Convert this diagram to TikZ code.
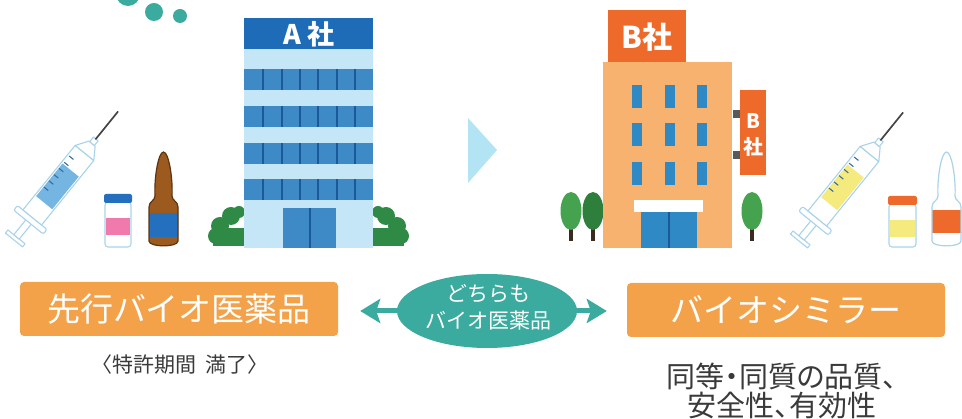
\documentclass[tikz,border=0pt]{standalone}
\usepackage{fontspec}
\setmainfont{Noto Sans CJK JP}
\newfontfamily\paltfont[RawFeature=+palt]{Noto Sans CJK JP}
\usetikzlibrary{arrows.meta,shapes.geometric}

\definecolor{tealc}{HTML}{3BAA9F}
\definecolor{boxorange}{HTML}{F4A24A}
\definecolor{asign}{HTML}{1E6BB8}
\definecolor{abody}{HTML}{C4E6F6}
\definecolor{awin}{HTML}{3D8AC6}
\definecolor{adiv}{HTML}{1B5A99}
\definecolor{bbody}{HTML}{F6B26E}
\definecolor{bsign}{HTML}{EE6A2B}
\definecolor{bwin}{HTML}{2F89C5}
\definecolor{bush}{HTML}{2F8A45}
\definecolor{treeA}{HTML}{45A24F}
\definecolor{treeB}{HTML}{2E7F3C}
\definecolor{trunk}{HTML}{3B2A1E}
\definecolor{glassline}{HTML}{A9D3EA}
\definecolor{liqblue}{HTML}{74B5E2}
\definecolor{liqyellow}{HTML}{F4EA7E}
\definecolor{tickc}{HTML}{3C6EA0}
\definecolor{needle}{HTML}{444444}
\definecolor{amber}{HTML}{9C5A1F}
\definecolor{amberline}{HTML}{5B3512}
\definecolor{labelblue}{HTML}{2470BE}
\definecolor{labelpink}{HTML}{F07AAB}
\definecolor{labelorange}{HTML}{EE6A2C}
\definecolor{paleblue}{HTML}{B2E4F3}
\definecolor{textgray}{HTML}{3A3A3A}

% syringe along local +x, plunger end at the origin
\newcommand\drawsyringe[3]{%
  \begin{scope}[shift={#1}, rotate=51]
    \draw[glass] (0,-11) rectangle (4,11);
    \draw[glass] (4,-3.5) rectangle (24,3.5);
    \draw[glass, rounded corners=2] (23,-19) rectangle (29,19);
    \draw[glass] (29,-12) rectangle (112,12);
    \fill[#2] (48,-10.4) rectangle (90,10.4);
    \foreach \t in {60,68,76,84,92,100} \draw[#3, line width=1.1] (\t,-10) -- (\t,-4.5);
    \draw[glass] (112,-12) -- (124,-4) -- (124,4) -- (112,12) -- cycle;
    \draw[glass] (124,-3) rectangle (130,3);
    \draw[needle, line width=1.7, line cap=round] (130,0) -- (165,0);
  \end{scope}}

% ampoule outline, centred on x = 0
\def\amppath{(-14.5,241) -- (-14.5,207) .. controls (-14.5,201) and (-8.5,201) .. (-8.5,196)
  .. controls (-9.5,180) and (-5.5,152) .. (0,152) .. controls (5.5,152) and (9.5,180) .. (8.5,196)
  .. controls (8.5,201) and (14.5,201) .. (14.5,207) -- (14.5,241)
  .. controls (14.5,247.5) and (-14.5,247.5) .. (-14.5,241) -- cycle}

\newcommand\drawampoule[6]{%
  \begin{scope}[shift={(#1,0)}]
    \fill[#2] \amppath;
    \begin{scope}
      \clip \amppath;
      \fill[#4] (-16,#5) rectangle (16,#6);
    \end{scope}
    \draw[#3, line width=1.2, line join=round] \amppath;
  \end{scope}}

\begin{document}
\begin{tikzpicture}[x=1pt, y=-1pt,
  glass/.style={draw=glassline, line width=1.1, fill=white, line join=round},
  obox/.style={rectangle, rounded corners=4pt, fill=boxorange, text=white,
    minimum width=318, minimum height=54, inner sep=0,
    font=\fontsize{33}{38}\selectfont},
  arr/.style={draw=tealc, line width=5,
    -{Stealth[length=20pt, width=24pt, inset=4pt]}},
  signtext/.style={text=white, font=\bfseries\fontsize{#1}{#1}\selectfont, inner sep=0}]

\useasboundingbox (0,0) rectangle (962,419);

% bubbles at the top
\fill[tealc] (128,-6) circle[radius=12];
\fill[tealc] (154,12) circle[radius=9];
\fill[tealc] (180,16) circle[radius=7];

% ---------- left: syringe, vial, ampoule ----------
\drawsyringe{(14,240)}{liqblue}{tickc}
\draw[glass, rounded corners=3] (105,202) rectangle (131,247);
\fill[labelpink] (105.6,218) rectangle (130.4,235);
\fill[labelblue, rounded corners=2] (104,194) rectangle (132,203);
\drawampoule{163.5}{amber}{amberline}{labelblue}{213}{237}

% ---------- company A ----------
\foreach \s/\m in {0/1, 617/-1} {
  \begin{scope}[shift={(\s,0)}, xscale=\m]
    \fill[bush] (213,228) rectangle (244,246);
    \fill[bush] (220,226) circle[radius=9];
    \fill[bush] (231,216) circle[radius=9];
    \fill[bush] (239,212) circle[radius=6];
    \fill[bush] (216,236) circle[radius=8];
  \end{scope}
}
\fill[abody] (244,49) rectangle (373,248);
\fill[asign] (244,18) rectangle (373,49);
\node[signtext=27] (asigntext) at (309,34) {A\hspace{0.2em}社};
\foreach \y in {69,106,143,179} {
  \fill[awin] (244,\y) rectangle (373,\y+21);
  \foreach \x in {263,282,300,318,337,355}
    \draw[adiv, line width=1.5] (\x,\y) -- (\x,\y+21);
}
\fill[awin] (283,208) rectangle (336,248);
\draw[adiv, line width=1.5] (310,208) -- (310,248);

% ---------- arrow between the two companies ----------
\fill[paleblue] (468,118) -- (497,150) -- (468,183) -- cycle;

% ---------- company B ----------
\foreach \cx/\c in {571/treeA, 593/treeB, 752/treeA} {
  \fill[trunk] (\cx-1.8,226) rectangle (\cx+1.8,241);
  \fill[\c] (\cx,211) ellipse[x radius=10.5, y radius=19];
}
\fill[bbody] (603,62) rectangle (732,248);
\fill[bsign] (608,10) rectangle (686,62);
\node[signtext=30] (bsigntext) at (647,37) {B社};
\foreach \y in {85,123,162}
  \foreach \x in {632,665,697}
    \fill[bwin] (\x,\y) rectangle (\x+10,\y+23);
\fill[white] (634,200) rectangle (703,212);
\fill[bwin] (641,212) rectangle (697,248);
\draw[adiv, line width=1.2] (669,212) -- (669,248);
\fill[gray!70!black] (733,110) rectangle (740,118);
\fill[gray!70!black] (733,151) rectangle (740,159);
\fill[bsign] (740,90) rectangle (766,175);
\node[signtext=20] (sideB) at (753,121) {B};
\node[signtext=20] (sideSha) at (753,147) {社};

% ---------- right: syringe, vial, ampoule ----------
\drawsyringe{(799,241)}{liqyellow}{tickc}
\draw[glass, rounded corners=3] (889,204) rectangle (916,247);
\fill[liqyellow] (889.6,220) rectangle (915.4,237);
\fill[labelorange, rounded corners=2] (888,196) rectangle (917,205);
\drawampoule{946.5}{white}{glassline}{labelorange}{210}{233}

% ---------- labels ----------
\node[obox] (lbox) at (179,309) {先行バイオ医薬品};
\node[obox] (rbox) at (786,310) {バイオシミラー};

\node[ellipse, fill=tealc, minimum width=180, minimum height=74, inner sep=0] (mid) at (487,311) {};
\draw[arr, shorten >=22pt] (mid.center) -- (mid.center -| lbox.east);
\draw[arr, shorten >=20pt] (mid.center) -- (mid.center -| rbox.west);
\node[text=white, align=center, inner sep=0,
  font=\fontsize{21}{27}\selectfont] (midtext) at (488,307) {どちらも\\バイオ医薬品};

\node[text=textgray, inner sep=0, font=\fontsize{21}{23}\selectfont] (patent) at (180,365) {〈特許期間\hspace{0.4em}満了〉};
\node[text=textgray, align=center, inner sep=0,
  font=\paltfont\fontsize{29}{29}\selectfont] (quality) at (782,391) {同等・同質の品質、\\安全性、有効性};

\end{tikzpicture}
\end{document}
